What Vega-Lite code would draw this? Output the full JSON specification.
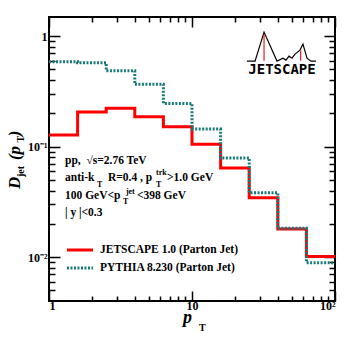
{
  "$schema": "https://vega.github.io/schema/vega-lite/v6.json",
  "autosize": "none",
  "width": 286,
  "height": 284,
  "padding": {"left": 49, "top": 17, "right": 18, "bottom": 38},
  "background": "white",
  "config": {
    "view": {"stroke": "black", "strokeWidth": 2},
    "axis": {"domain": false, "grid": false, "title": null, "tickColor": "black", "tickWidth": 1.5, "labelFont": "Liberation Serif", "labelFontWeight": "bold", "labelFontSize": 12, "labelColor": "black"}
  },
  "datasets": {
    "steps": [
      {"series": "JETSCAPE", "pt": 1, "d": 0.127},
      {"series": "JETSCAPE", "pt": 1.585, "d": 0.206},
      {"series": "JETSCAPE", "pt": 2.512, "d": 0.222},
      {"series": "JETSCAPE", "pt": 3.981, "d": 0.186},
      {"series": "JETSCAPE", "pt": 6.31, "d": 0.151},
      {"series": "JETSCAPE", "pt": 10, "d": 0.105},
      {"series": "JETSCAPE", "pt": 15.85, "d": 0.064},
      {"series": "JETSCAPE", "pt": 25.12, "d": 0.0344},
      {"series": "JETSCAPE", "pt": 39.81, "d": 0.0179},
      {"series": "JETSCAPE", "pt": 63.1, "d": 0.0101},
      {"series": "JETSCAPE", "pt": 100, "d": 0.0101},
      {"series": "PYTHIA", "pt": 1, "d": 0.586},
      {"series": "PYTHIA", "pt": 1.585, "d": 0.574},
      {"series": "PYTHIA", "pt": 2.512, "d": 0.485},
      {"series": "PYTHIA", "pt": 3.981, "d": 0.366},
      {"series": "PYTHIA", "pt": 6.31, "d": 0.246},
      {"series": "PYTHIA", "pt": 10, "d": 0.144},
      {"series": "PYTHIA", "pt": 15.85, "d": 0.079},
      {"series": "PYTHIA", "pt": 25.12, "d": 0.0382},
      {"series": "PYTHIA", "pt": 39.81, "d": 0.0182},
      {"series": "PYTHIA", "pt": 63.1, "d": 0.0089},
      {"series": "PYTHIA", "pt": 100, "d": 0.0089}
    ],
    "legendLines": [
      {"series": "JETSCAPE", "pt": 1.336, "d": 0.01157},
      {"series": "JETSCAPE", "pt": 2.031, "d": 0.01157},
      {"series": "PYTHIA", "pt": 1.336, "d": 0.00795},
      {"series": "PYTHIA", "pt": 2.031, "d": 0.00795}
    ],
    "mainText": [
      {"pt": 1.294, "d": 0.0739, "t": "pp,\u00a0 √s=2.76 TeV"},
      {"pt": 1.294, "d": 0.0519, "t": "anti-k"},
      {"pt": 2.586, "d": 0.0519, "t": "R=0.4 , p"},
      {"pt": 6.69, "d": 0.0519, "t": ">1.0 GeV"},
      {"pt": 1.294, "d": 0.036, "t": "100 GeV<p"},
      {"pt": 4.12, "d": 0.036, "t": "<398 GeV"},
      {"pt": 1.294, "d": 0.025, "t": "| y |<0.3"},
      {"pt": 2.273, "d": 0.01157, "t": "JETSCAPE 1.0 (Parton Jet)"},
      {"pt": 2.273, "d": 0.00795, "t": "PYTHIA 8.230 (Parton Jet)"}
    ],
    "smallText": [
      {"pt": 2.167, "d": 0.0453, "t": "T"},
      {"pt": 5.6, "d": 0.0576, "t": "trk"},
      {"pt": 5.6, "d": 0.0453, "t": "T"},
      {"pt": 3.45, "d": 0.0392, "t": "jet"},
      {"pt": 3.29, "d": 0.0318, "t": "T"}
    ],
    "yTitleBig": [
      {"pt": 0.575, "d": 0.0412, "t": "D"},
      {"pt": 0.575, "d": 0.0755, "t": "(p"},
      {"pt": 0.575, "d": 0.124, "t": ")"}
    ],
    "yTitleSmall": [
      {"pt": 0.64, "d": 0.053, "t": "jet"},
      {"pt": 0.64, "d": 0.109, "t": "T"}
    ],
    "xTitleBig": [{"pt": 8.65, "d": 0.00252, "t": "p"}],
    "xTitleSmall": [{"pt": 11.19, "d": 0.00212, "t": "T"}],
    "logoLine": [
      {"i": 0, "pt": 24.2, "d": 0.594},
      {"i": 1, "pt": 27.6, "d": 0.594},
      {"i": 2, "pt": 31.9, "d": 1.087},
      {"i": 3, "pt": 39.3, "d": 0.594},
      {"i": 4, "pt": 43.3, "d": 0.632},
      {"i": 5, "pt": 45.4, "d": 0.607},
      {"i": 6, "pt": 47.7, "d": 0.659},
      {"i": 7, "pt": 50.1, "d": 0.632},
      {"i": 8, "pt": 52.5, "d": 0.687},
      {"i": 9, "pt": 56.9, "d": 0.747},
      {"i": 10, "pt": 59.7, "d": 0.847},
      {"i": 11, "pt": 63.7, "d": 0.632},
      {"i": 12, "pt": 68.0, "d": 0.594},
      {"i": 13, "pt": 73.6, "d": 0.594}
    ],
    "logoRed": [
      {"g": "a", "pt": 31.9, "d": 1.04},
      {"g": "a", "pt": 31.9, "d": 0.6},
      {"g": "b", "pt": 57.5, "d": 0.74},
      {"g": "b", "pt": 57.5, "d": 0.6}
    ],
    "logoText": [{"pt": 42.6, "d": 0.492, "t": "JETSCAPE"}]
  },
  "layer": [
    {
      "data": {"name": "steps"},
      "mark": {"type": "line", "interpolate": "step-after", "strokeWidth": 3},
      "encoding": {
        "x": {"field": "pt", "type": "quantitative", "scale": {"type": "log", "domain": [1, 100], "nice": false},
              "axis": {"orient": "bottom", "values": [1, 10, 100], "tickSize": -10, "labelPadding": 9, "labelExpr": "datum.value == 100 ? '10²' : datum.value == 1 ? '1' : '10'"}},
        "y": {"field": "d", "type": "quantitative", "scale": {"type": "log", "domain": [0.004, 1.49], "nice": false},
              "axis": {"orient": "left", "values": [0.01, 0.1, 1], "tickSize": -11, "labelPadding": 13, "labelExpr": "datum.value == 1 ? '1' : datum.value == 0.1 ? '10⁻¹' : '10⁻²'"}},
        "color": {"field": "series", "type": "nominal", "scale": {"domain": ["JETSCAPE", "PYTHIA"], "range": ["#ff0000", "#197878"]}, "legend": null},
        "strokeDash": {"field": "series", "type": "nominal", "scale": {"domain": ["JETSCAPE", "PYTHIA"], "range": [[1, 0], [2, 1.5]]}, "legend": null}
      }
    },
    {
      "data": {"name": "legendLines"},
      "mark": {"type": "line", "strokeWidth": 3},
      "encoding": {
        "x": {"field": "pt", "type": "quantitative", "scale": {"type": "log", "domain": [1, 100], "nice": false},
              "axis": {"orient": "top", "values": [1, 10, 100], "tickSize": -10, "labels": false}},
        "y": {"field": "d", "type": "quantitative", "scale": {"type": "log", "domain": [0.004, 1.49], "nice": false},
              "axis": {"orient": "right", "values": [0.01, 0.1, 1], "tickSize": -11, "labels": false}},
        "color": {"field": "series", "type": "nominal", "scale": {"domain": ["JETSCAPE", "PYTHIA"], "range": ["#ff0000", "#197878"]}, "legend": null},
        "strokeDash": {"field": "series", "type": "nominal", "scale": {"domain": ["JETSCAPE", "PYTHIA"], "range": [[1, 0], [2, 1.5]]}, "legend": null}
      }
    },
    {
      "data": {"name": "mainText"},
      "mark": {"type": "text", "font": "Liberation Serif", "fontWeight": "bold", "fontSize": 11.5, "align": "left", "baseline": "middle", "color": "black"},
      "encoding": {
        "x": {"field": "pt", "type": "quantitative", "scale": {"type": "log", "domain": [1, 100], "nice": false},
              "axis": {"orient": "bottom", "values": [2, 3, 4, 5, 6, 7, 8, 9, 20, 30, 40, 50, 60, 70, 80, 90], "tickSize": -5, "labels": false}},
        "y": {"field": "d", "type": "quantitative", "scale": {"type": "log", "domain": [0.004, 1.49], "nice": false},
              "axis": {"orient": "left", "values": [0.005, 0.006, 0.007, 0.008, 0.009, 0.02, 0.03, 0.04, 0.05, 0.06, 0.07, 0.08, 0.09, 0.2, 0.3, 0.4, 0.5, 0.6, 0.7, 0.8, 0.9], "tickSize": -6, "labels": false}},
        "text": {"field": "t"}
      }
    },
    {
      "data": {"name": "smallText"},
      "mark": {"type": "text", "font": "Liberation Serif", "fontWeight": "bold", "fontSize": 8, "align": "left", "baseline": "middle", "color": "black"},
      "encoding": {
        "x": {"field": "pt", "type": "quantitative", "scale": {"type": "log", "domain": [1, 100], "nice": false},
              "axis": {"orient": "top", "values": [2, 3, 4, 5, 6, 7, 8, 9, 20, 30, 40, 50, 60, 70, 80, 90], "tickSize": -5, "labels": false}},
        "y": {"field": "d", "type": "quantitative", "scale": {"type": "log", "domain": [0.004, 1.49], "nice": false},
              "axis": {"orient": "right", "values": [0.005, 0.006, 0.007, 0.008, 0.009, 0.02, 0.03, 0.04, 0.05, 0.06, 0.07, 0.08, 0.09, 0.2, 0.3, 0.4, 0.5, 0.6, 0.7, 0.8, 0.9], "tickSize": -6, "labels": false}},
        "text": {"field": "t"}
      }
    },
    {
      "data": {"name": "yTitleBig"},
      "mark": {"type": "text", "font": "Liberation Serif", "fontWeight": "bold", "fontStyle": "italic", "fontSize": 17, "align": "left", "baseline": "middle", "angle": 270, "color": "black"},
      "encoding": {
        "x": {"field": "pt", "type": "quantitative", "axis": null},
        "y": {"field": "d", "type": "quantitative", "axis": null},
        "text": {"field": "t"}
      }
    },
    {
      "data": {"name": "yTitleSmall"},
      "mark": {"type": "text", "font": "Liberation Serif", "fontWeight": "bold", "fontSize": 10, "align": "left", "baseline": "middle", "angle": 270, "color": "black"},
      "encoding": {
        "x": {"field": "pt", "type": "quantitative", "axis": null},
        "y": {"field": "d", "type": "quantitative", "axis": null},
        "text": {"field": "t"}
      }
    },
    {
      "data": {"name": "xTitleBig"},
      "mark": {"type": "text", "font": "Liberation Serif", "fontWeight": "bold", "fontStyle": "italic", "fontSize": 18, "align": "left", "baseline": "alphabetic", "color": "black"},
      "encoding": {
        "x": {"field": "pt", "type": "quantitative", "axis": null},
        "y": {"field": "d", "type": "quantitative", "axis": null},
        "text": {"field": "t"}
      }
    },
    {
      "data": {"name": "xTitleSmall"},
      "mark": {"type": "text", "font": "Liberation Serif", "fontWeight": "bold", "fontSize": 10, "align": "left", "baseline": "alphabetic", "color": "black"},
      "encoding": {
        "x": {"field": "pt", "type": "quantitative", "axis": null},
        "y": {"field": "d", "type": "quantitative", "axis": null},
        "text": {"field": "t"}
      }
    },
    {
      "data": {"name": "logoLine"},
      "mark": {"type": "line", "color": "black", "strokeWidth": 1.2},
      "encoding": {
        "x": {"field": "pt", "type": "quantitative", "axis": null},
        "y": {"field": "d", "type": "quantitative", "axis": null},
        "order": {"field": "i"}
      }
    },
    {
      "data": {"name": "logoRed"},
      "mark": {"type": "line", "color": "#e02020", "strokeWidth": 1.2},
      "encoding": {
        "x": {"field": "pt", "type": "quantitative", "axis": null},
        "y": {"field": "d", "type": "quantitative", "axis": null},
        "detail": {"field": "g"}
      }
    },
    {
      "data": {"name": "logoText"},
      "mark": {"type": "text", "font": "DejaVu Sans Mono", "fontWeight": "bold", "fontSize": 14, "align": "center", "baseline": "middle", "color": "black"},
      "encoding": {
        "x": {"field": "pt", "type": "quantitative", "axis": null},
        "y": {"field": "d", "type": "quantitative", "axis": null},
        "text": {"field": "t"}
      }
    }
  ],
  "resolve": {"axis": {"x": "independent", "y": "independent"}}
}
